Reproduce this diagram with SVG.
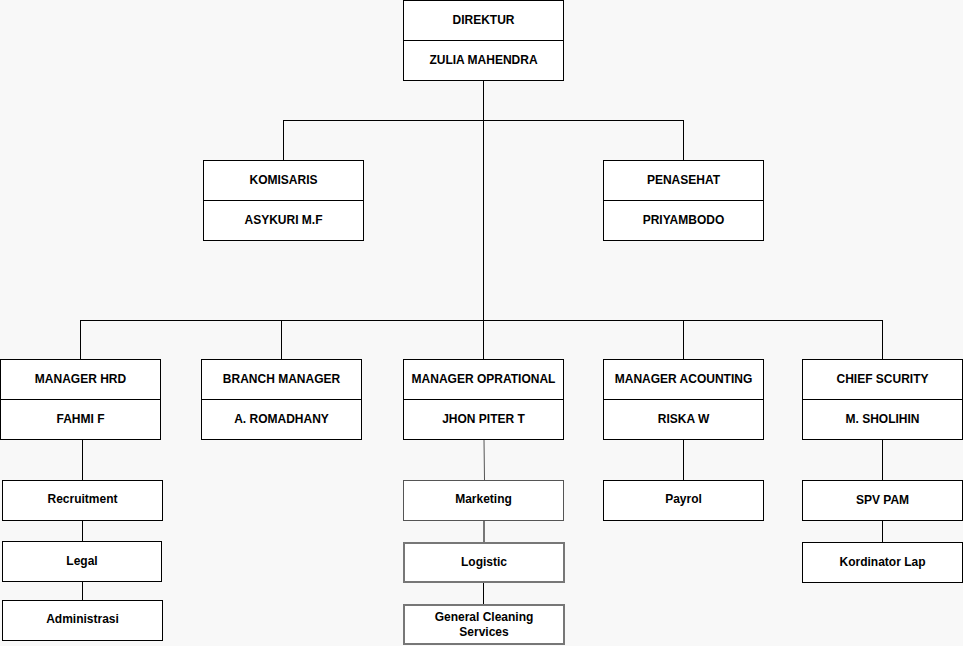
<svg xmlns="http://www.w3.org/2000/svg" width="963" height="646" viewBox="0 0 963 646">
<style>
rect{fill:#fff;stroke:#000;stroke-width:1}
text{font-family:"Liberation Sans",Arial,sans-serif;font-size:12px;font-weight:bold;text-anchor:middle;dominant-baseline:central;fill:#000}
.c line{stroke:#000;stroke-width:1}
.g{stroke:#555}
.g2{stroke:#777;stroke-width:2}
</style>
<rect x="0" y="0" width="963" height="646" style="fill:#f8f8f8;stroke:none"/>
<g class="c">
<line x1="483.5" y1="80" x2="483.5" y2="360"/>
<line x1="283.5" y1="120.5" x2="683.5" y2="120.5"/>
<line x1="283.5" y1="120" x2="283.5" y2="160"/>
<line x1="683.5" y1="120" x2="683.5" y2="160"/>
<line x1="80.5" y1="320.5" x2="882.5" y2="320.5"/>
<line x1="80.5" y1="320" x2="80.5" y2="360"/>
<line x1="281.5" y1="320" x2="281.5" y2="360"/>
<line x1="683.5" y1="320" x2="683.5" y2="360"/>
<line x1="882.5" y1="320" x2="882.5" y2="360"/>
<line x1="82.5" y1="440" x2="82.5" y2="480"/>
<line x1="82.5" y1="520" x2="82.5" y2="541"/>
<line x1="82.5" y1="581" x2="82.5" y2="600"/>
<line x1="484" y1="440" x2="484.5" y2="480" style="stroke:#555"/>
<line x1="484" y1="520" x2="484" y2="542" style="stroke:#777;stroke-width:2"/>
<line x1="483.5" y1="582" x2="483.5" y2="604"/>
<line x1="683.5" y1="440" x2="683.5" y2="480"/>
<line x1="882.5" y1="440" x2="882.5" y2="480"/>
<line x1="882.5" y1="521" x2="882.5" y2="542"/>
</g>
<g id="direktur"><rect x="403.5" y="0.5" width="160" height="40"/><rect x="403.5" y="40.5" width="160" height="40"/><text x="483.5" y="20">DIREKTUR</text><text x="483.5" y="60">ZULIA MAHENDRA</text></g>
<g id="komisaris"><rect x="203.5" y="160.5" width="160" height="40"/><rect x="203.5" y="200.5" width="160" height="40"/><text x="283.5" y="180">KOMISARIS</text><text x="283.5" y="220">ASYKURI M.F</text></g>
<g id="penasehat"><rect x="603.5" y="160.5" width="160" height="40"/><rect x="603.5" y="200.5" width="160" height="40"/><text x="683.5" y="180">PENASEHAT</text><text x="683.5" y="220">PRIYAMBODO</text></g>
<g id="hrd"><rect x="0.5" y="359.5" width="160" height="40"/><rect x="0.5" y="399.5" width="160" height="40"/><text x="80.5" y="379">MANAGER HRD</text><text x="80.5" y="419">FAHMI F</text></g>
<g id="branch"><rect x="201.5" y="359.5" width="160" height="40"/><rect x="201.5" y="399.5" width="160" height="40"/><text x="281.5" y="379">BRANCH MANAGER</text><text x="281.5" y="419">A. ROMADHANY</text></g>
<g id="oprational"><rect x="403.5" y="359.5" width="160" height="40"/><rect x="403.5" y="399.5" width="160" height="40"/><text x="483.5" y="379">MANAGER OPRATIONAL</text><text x="483.5" y="419">JHON PITER T</text></g>
<g id="acounting"><rect x="603.5" y="359.5" width="160" height="40"/><rect x="603.5" y="399.5" width="160" height="40"/><text x="683.5" y="379">MANAGER ACOUNTING</text><text x="683.5" y="419">RISKA W</text></g>
<g id="security"><rect x="802.5" y="359.5" width="160" height="40"/><rect x="802.5" y="399.5" width="160" height="40"/><text x="882.5" y="379">CHIEF SCURITY</text><text x="882.5" y="419">M. SHOLIHIN</text></g>
<g id="recruitment"><rect x="2.5" y="480.5" width="160" height="40"/><text x="82.5" y="499">Recruitment</text></g>
<g id="legal"><rect x="2.5" y="541.5" width="159" height="40"/><text x="82" y="561">Legal</text></g>
<g id="administrasi"><rect x="2.5" y="600.5" width="160" height="40"/><text x="82.5" y="619">Administrasi</text></g>
<g id="marketing"><rect x="403.5" y="480.5" width="160" height="40" class="g"/><text x="483.5" y="499">Marketing</text></g>
<g id="logistic"><rect x="404" y="543" width="160" height="39" class="g2"/><text x="484" y="562">Logistic</text></g>
<g id="gcs"><rect x="404" y="605" width="160" height="39" class="g2"/><text x="484" y="617">General Cleaning</text><text x="484" y="632">Services</text></g>
<g id="payrol"><rect x="603.5" y="480.5" width="160" height="40"/><text x="683.5" y="499">Payrol</text></g>
<g id="spvpam"><rect x="802.5" y="480.5" width="160" height="40"/><text x="882.5" y="500">SPV PAM</text></g>
<g id="kordinator"><rect x="802.5" y="542.5" width="160" height="40"/><text x="882.5" y="562">Kordinator Lap</text></g>
</svg>
